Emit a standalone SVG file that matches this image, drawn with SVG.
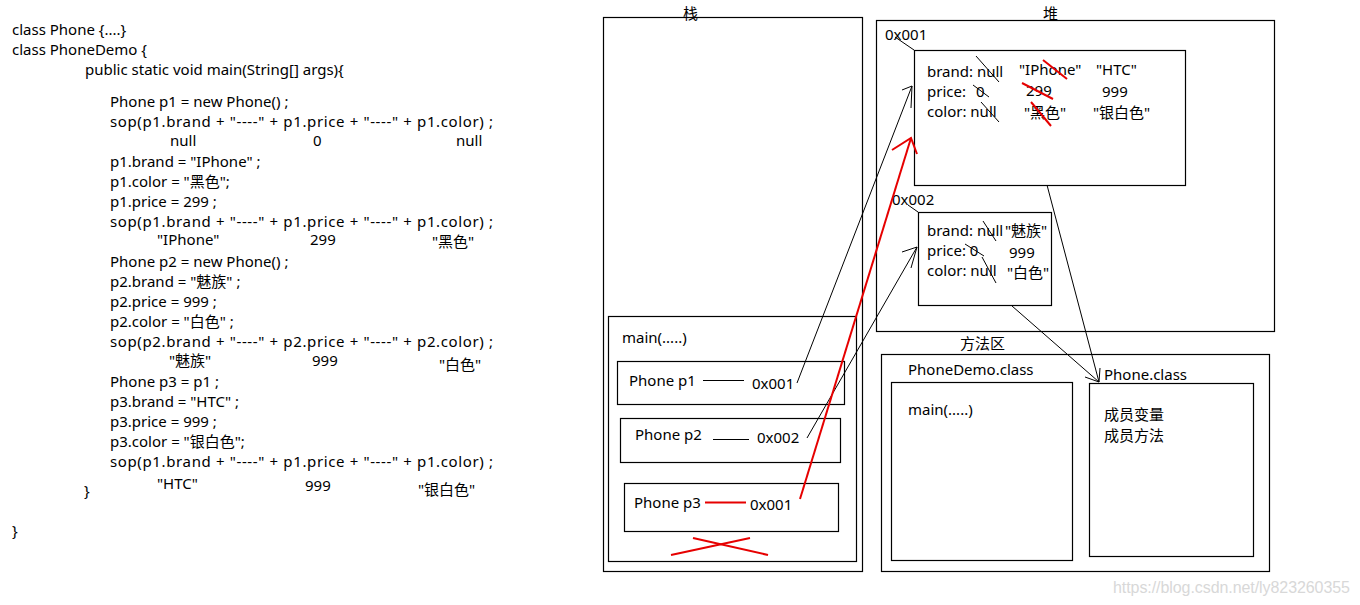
<svg xmlns="http://www.w3.org/2000/svg" width="1360" height="605" viewBox="0 0 1360 605">
<style>
text{font-family:"Noto Sans","Noto Sans CJK SC",sans-serif;font-size:15px;fill:#000}
.box{fill:none;stroke:#000;stroke-width:1.2}
.ln{fill:none;stroke:#000;stroke-width:1}
.rd{fill:none;stroke:#e60000;stroke-width:2}
.wm{font-family:"Liberation Sans",sans-serif;font-size:16px;fill:#d8d8d8}
</style>
<rect width="1360" height="605" fill="#fff"/>
<g id="code">
<text x="12" y="35">class Phone {....}</text>
<text x="12" y="55">class PhoneDemo {</text>
<text x="85" y="75">public static void main(String[] args){</text>
<text x="110" y="107">Phone p1 = new Phone() ;</text>
<text x="110" y="127" textLength="383">sop(p1.brand + "----" + p1.price + "----" + p1.color) ;</text>
<text x="170" y="146">null</text><text x="313" y="146">0</text><text x="456" y="146">null</text>
<text x="110" y="167">p1.brand = "IPhone" ;</text>
<text x="110" y="187">p1.color = "黑色";</text>
<text x="110" y="207">p1.price = 299 ;</text>
<text x="110" y="227" textLength="383">sop(p1.brand + "----" + p1.price + "----" + p1.color) ;</text>
<text x="157" y="245">"IPhone"</text><text x="310" y="245">299</text><text x="432" y="247">"黑色"</text>
<text x="110" y="267">Phone p2 = new Phone() ;</text>
<text x="110" y="287">p2.brand = "魅族" ;</text>
<text x="110" y="307">p2.price = 999 ;</text>
<text x="110" y="327">p2.color = "白色" ;</text>
<text x="110" y="347" textLength="383">sop(p2.brand + "----" + p2.price + "----" + p2.color) ;</text>
<text x="169" y="366">"魅族"</text><text x="312" y="366">999</text><text x="439" y="370">"白色"</text>
<text x="110" y="387">Phone p3 = p1 ;</text>
<text x="110" y="407">p3.brand = "HTC" ;</text>
<text x="110" y="427">p3.price = 999 ;</text>
<text x="110" y="447">p3.color = "银白色";</text>
<text x="110" y="467" textLength="383">sop(p1.brand + "----" + p1.price + "----" + p1.color) ;</text>
<text x="157" y="489">"HTC"</text><text x="305" y="491">999</text><text x="418" y="495">"银白色"</text>
<text x="84" y="496">}</text>
<text x="12" y="536">}</text>
</g>
<g id="stack">
<rect class="box" x="603.5" y="17.5" width="259" height="554"/>
<text x="683" y="19">栈</text>
</g>
<g id="main-frame">
<rect class="box" x="608.5" y="316.5" width="248" height="245"/>
<text x="622" y="343">main(.....)</text>
</g>
<g id="p1">
<rect class="box" x="617.5" y="361.5" width="227" height="43"/>
<text x="629" y="386">Phone p1</text>
<line class="ln" x1="703" y1="380.5" x2="744" y2="380.5"/>
<text x="752" y="389">0x001</text>
</g>
<g id="p2">
<rect class="box" x="620.5" y="418.5" width="220" height="44"/>
<text x="635" y="440">Phone p2</text>
<line class="ln" x1="713" y1="439.5" x2="749" y2="439.5"/>
<text x="757" y="443">0x002</text>
</g>
<g id="p3">
<rect class="box" x="624.5" y="483.5" width="214" height="48"/>
<text x="634" y="508">Phone p3</text>
<line class="rd" x1="705" y1="502.5" x2="746" y2="502.5"/>
<text x="750" y="510">0x001</text>
</g>
<g id="stack-pop">
<line class="rd" x1="671" y1="555" x2="750" y2="538"/>
<line class="rd" x1="693" y1="538" x2="768" y2="555"/>
</g>
<g id="heap">
<rect class="box" x="876.5" y="20.5" width="398" height="311"/>
<text x="1043" y="19">堆</text>
</g>
<g id="obj1">
<text x="885" y="40">0x001</text>
<line class="ln" x1="895" y1="37" x2="914" y2="50"/>
<rect class="box" x="914.5" y="50.5" width="271" height="135"/>
<text x="927" y="77">brand: null</text>
<text x="927" y="97">price:</text>
<text x="976" y="97">0</text>
<text x="927" y="117">color: null</text>
<text x="1019" y="75">"IPhone"</text>
<text x="1026" y="96">299</text>
<text x="1024" y="118">"黑色"</text>
<text x="1096" y="75">"HTC"</text>
<text x="1102" y="97">999</text>
<text x="1093" y="118">"银白色"</text>
<line class="ln" x1="976" y1="56" x2="999" y2="82"/>
<line class="ln" x1="973" y1="85" x2="989" y2="97"/>
<line class="ln" x1="981" y1="102" x2="999" y2="122"/>
<line class="rd" x1="1043" y1="60" x2="1067" y2="79"/>
<line class="rd" x1="1022" y1="83" x2="1053" y2="99"/>
<line class="rd" x1="1031" y1="102" x2="1051" y2="126"/>
</g>
<g id="obj2">
<text x="892" y="205">0x002</text>
<line class="ln" x1="908" y1="205" x2="918" y2="212"/>
<rect class="box" x="918.5" y="212.5" width="133" height="93"/>
<text x="927" y="236">brand: null</text>
<text x="1005" y="236">"魅族"</text>
<text x="927" y="256">price: 0</text>
<text x="1009" y="258">999</text>
<text x="927" y="276">color: null</text>
<text x="1007" y="278">"白色"</text>
<line class="ln" x1="983" y1="221" x2="996" y2="241"/>
<line class="ln" x1="965" y1="244" x2="984" y2="256"/>
<line class="ln" x1="982" y1="257" x2="996" y2="283"/>
</g>
<g id="method-area">
<rect class="box" x="881.5" y="354.5" width="388" height="217"/>
<text x="960" y="349">方法区</text>
</g>
<g id="phonedemo-class">
<text x="908" y="375">PhoneDemo.class</text>
<rect class="box" x="891.5" y="382.5" width="181" height="178"/>
<text x="908" y="415">main(.....)</text>
</g>
<g id="phone-class">
<text x="1104" y="380">Phone.class</text>
<rect class="box" x="1089.5" y="383.5" width="164" height="173"/>
<text x="1104" y="420">成员变量</text>
<text x="1104" y="441">成员方法</text>
</g>
<g id="connectors">
<polyline class="ln" points="797,383 912,86"/>
<polyline class="ln" points="902,90 912,86 911,108"/>
<polyline class="ln" points="807,438 917,247"/>
<polyline class="ln" points="902,252 917,247 911,268"/>
<polyline class="rd" points="800,499 911,138"/>
<polyline class="rd" points="892,150 911,138 917,154"/>
<polyline class="ln" points="1047,185 1099,382"/>
<polyline class="ln" points="1012,306 1099,382"/>
<polyline class="ln" points="1100,368 1099,382 1085,377"/>
</g>
<text class="wm" x="1113" y="593" textLength="237">https://blog.csdn.net/ly823260355</text>
</svg>
